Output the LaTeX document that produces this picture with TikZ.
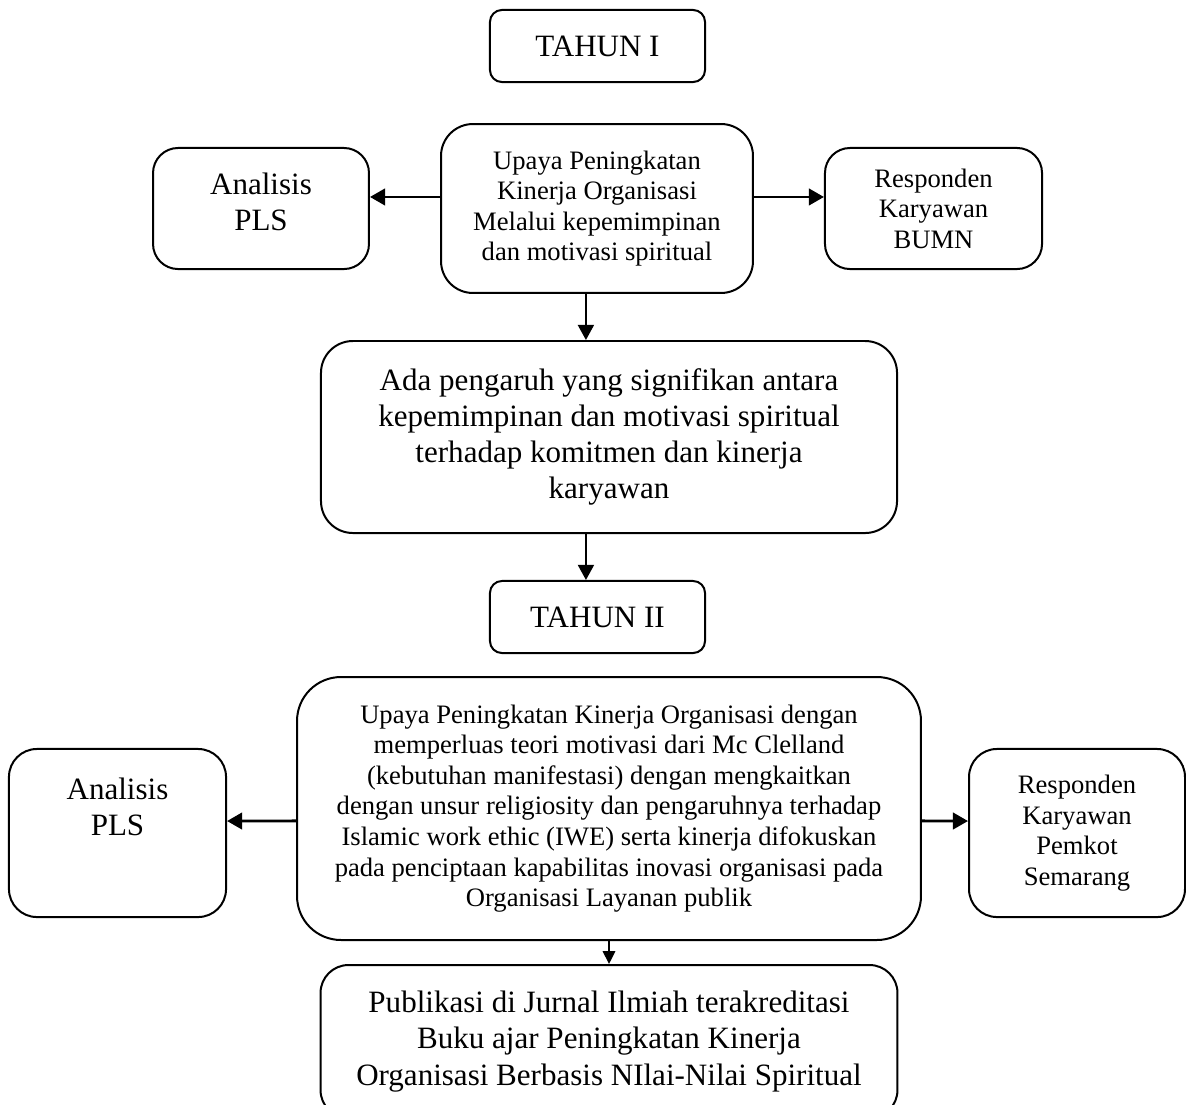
\documentclass[tikz,border=0pt]{standalone}
\usepackage{fontspec}
\setmainfont{Liberation Serif}
\usepackage{tikz}
\usetikzlibrary{arrows.meta, positioning, calc}
\newcommand{\besar}{\fontsize{14}{16.3}\selectfont}
\newcommand{\kecil}{\fontsize{12}{13.8}\selectfont}
\tikzset{
    blok/.style={draw, line width=0.9pt, align=center, inner sep=0pt},
    panah/.style={line width=0.9pt, -{Triangle[length=6.8pt, width=7.2pt]}},
    panahtebal/.style={line width=1.3pt, -{Triangle[length=6.8pt, width=7.4pt]}},
    panahkecil/.style={line width=0.8pt, -{Triangle[length=5.8pt, width=5.6pt]}}
}

\begin{document}
\begin{tikzpicture}[x=0.451pt, y=-0.451pt]
    \clip (0,0) rectangle (1187,1104);

    % tahun pertama
    \node[blok, font=\besar, rounded corners=5.4pt, minimum width=97pt, minimum height=32.5pt] (tahunA) at (597.5,46) {TAHUN I};
    \node[blok, font=\kecil, rounded corners=14.4pt, minimum width=140.7pt, minimum height=76.2pt] (upayaA) at (597,208.5)
        {Upaya Peningkatan\\Kinerja Organisasi\\Melalui kepemimpinan\\dan motivasi spiritual};
    \node[blok, rounded corners=11.3pt, minimum width=97.4pt, minimum height=54.6pt] (plsA) at (261,208.5) {};
    \node[font=\besar, align=center] (plsAteks) at (261,202) {Analisis\\PLS};
    \node[blok, font=\kecil, rounded corners=11.3pt, minimum width=97.9pt, minimum height=54.6pt] (respA) at (933.5,208.5) {Responden\\Karyawan\\BUMN};
    \node[blok, font=\besar, rounded corners=14.4pt, minimum width=259.8pt, minimum height=86.6pt] (ada) at (609,437)
        {Ada pengaruh yang signifikan antara\\kepemimpinan dan motivasi spiritual\\terhadap komitmen dan kinerja\\karyawan};

    % tahun kedua
    \node[blok, font=\besar, rounded corners=5.4pt, minimum width=97pt, minimum height=32.5pt] (tahunB) at (597.5,617) {TAHUN II};
    \node[blok, font=\kecil, rounded corners=19.8pt, minimum width=281.4pt, minimum height=118.6pt] (upayaB) at (609,808.5)
        {Upaya Peningkatan Kinerja Organisasi dengan\\memperluas teori motivasi dari Mc Clelland\\(kebutuhan manifestasi) dengan mengkaitkan\\dengan unsur religiosity dan pengaruhnya terhadap\\Islamic work ethic (IWE) serta kinerja difokuskan\\pada penciptaan kapabilitas inovasi organisasi pada\\Organisasi Layanan publik};
    \node[blok, rounded corners=12.6pt, minimum width=97.9pt, minimum height=75.8pt] (plsB) at (117.5,833) {};
    \node[font=\besar, align=center] (plsBteks) at (117.5,807) {Analisis\\PLS};
    \node[blok, font=\kecil, rounded corners=12.6pt, minimum width=97.4pt, minimum height=75.8pt] (respB) at (1077,833) {Responden\\Karyawan\\Pemkot\\Semarang};
    \node[blok, font=\besar, rounded corners=12.6pt, minimum width=260.2pt, minimum height=69pt] (pub) at (609,1041.5)
        {Publikasi di Jurnal Ilmiah terakreditasi\\Buku ajar Peningkatan Kinerja\\Organisasi Berbasis NIlai-Nilai Spiritual};

    % panah
    \draw[panahtebal] ([yshift=5.2pt]upayaA.west) -- ([yshift=5.2pt]plsA.east);
    \draw[panahtebal] ([yshift=5.2pt]upayaA.east) -- ([yshift=5.2pt]respA.west);
    \draw[panah] ([xshift=-5pt]upayaA.south) -- ([xshift=-5pt]upayaA.south |- ada.north);
    \draw[panah] ([xshift=-10.4pt]ada.south) -- ([xshift=-10.4pt]ada.south |- tahunB.north);
    \draw[panahtebal] ([yshift=-5.6pt]upayaB.west) -- ([yshift=5.4pt]plsB.east);
    \draw[panahtebal] ([yshift=-5.6pt]upayaB.east) -- ([yshift=5.4pt]respB.west);
    \draw[panahkecil] (upayaB.south) -- (pub.north);
\end{tikzpicture}
\end{document}
